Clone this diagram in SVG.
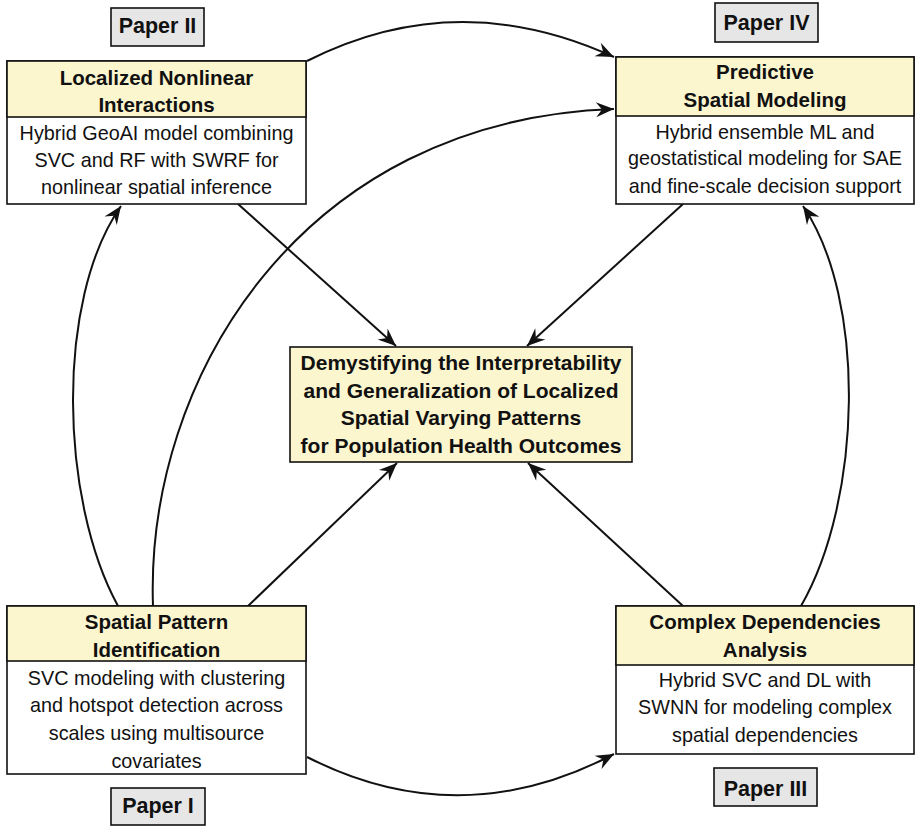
<svg xmlns="http://www.w3.org/2000/svg" width="915" height="827" viewBox="0 0 915 827">
<style>
text{font-family:"Liberation Sans","DejaVu Sans",sans-serif;fill:#111;text-anchor:middle}
.h{font-weight:bold;font-size:20.5px}
.m{font-weight:bold;font-size:21px}
.b{font-size:19.8px}
.p{font-weight:bold;font-size:21.5px}
.box{fill:#fff;stroke:#111;stroke-width:1.6}
.hdr{fill:#fcf6cf;stroke:#111;stroke-width:1.6}
.tag{fill:#e6e6e6;stroke:#111;stroke-width:1.6}
.c{fill:none;stroke:#111;stroke-width:2}
</style>
<defs>
<marker id="ah" markerUnits="userSpaceOnUse" markerWidth="24" markerHeight="20" viewBox="-20 -10 22 20" refX="0" refY="0" orient="auto">
<path d="M0,0 L-18,-7.5 L-12,0 L-18,7.5 Z" fill="#111"/>
</marker>
</defs>
<g id="connectors">
<path class="c" d="M307,61 Q457,-15 614,57" marker-end="url(#ah)"/>
<path class="c" d="M153,606 C145,380 300,120 614,109" marker-end="url(#ah)"/>
<path class="c" d="M118,606 C60,500 55,300 121,206" marker-end="url(#ah)"/>
<path class="c" d="M238,204 L396,346" marker-end="url(#ah)"/>
<path class="c" d="M683,204 L527,346" marker-end="url(#ah)"/>
<path class="c" d="M248,606 L397,463" marker-end="url(#ah)"/>
<path class="c" d="M683,606 L528,463" marker-end="url(#ah)"/>
<path class="c" d="M801,606 C862,500 867,300 803,206" marker-end="url(#ah)"/>
<path class="c" d="M307,757 Q460,835 614,754" marker-end="url(#ah)"/>
</g>
<g id="paper2"><rect class="tag" x="111" y="8" width="93" height="38"/><text class="p" x="157.5" y="33">Paper II</text></g>
<g id="paper4"><rect class="tag" x="715" y="3" width="103" height="39"/><text class="p" x="766.5" y="29.5">Paper IV</text></g>
<g id="paper1"><rect class="tag" x="111" y="788" width="94" height="37"/><text class="p" x="158" y="813">Paper I</text></g>
<g id="paper3"><rect class="tag" x="714" y="768" width="103" height="38"/><text class="p" x="765.5" y="795.5">Paper III</text></g>
<g id="node-localized">
<rect class="box" x="7" y="61" width="299" height="143"/>
<rect class="hdr" x="7" y="61" width="299" height="56"/>
<text class="h" x="156.5" y="84.5">Localized Nonlinear</text>
<text class="h" x="156.5" y="111.5">Interactions</text>
<text class="b" x="156.5" y="139.5">Hybrid GeoAI model combining</text>
<text class="b" x="156.5" y="166.5">SVC and RF with SWRF for</text>
<text class="b" x="156.5" y="193.5">nonlinear spatial inference</text>
</g>
<g id="node-predictive">
<rect class="box" x="616" y="57" width="298" height="147"/>
<rect class="hdr" x="616" y="57" width="298" height="59"/>
<text class="h" x="765" y="79">Predictive</text>
<text class="h" x="765" y="106.5">Spatial Modeling</text>
<text class="b" x="765" y="138.5">Hybrid ensemble ML and</text>
<text class="b" x="765" y="165">geostatistical modeling for SAE</text>
<text class="b" x="765" y="192.5">and fine-scale decision support</text>
</g>
<g id="node-center">
<rect class="hdr" x="290" y="347" width="342" height="115"/>
<text class="m" x="461" y="370">Demystifying the Interpretability</text>
<text class="m" x="461" y="397.5">and Generalization of Localized</text>
<text class="m" x="461" y="425">Spatial Varying Patterns</text>
<text class="m" x="461" y="452.5">for Population Health Outcomes</text>
</g>
<g id="node-spatial">
<rect class="box" x="7" y="606" width="299" height="168"/>
<rect class="hdr" x="7" y="606" width="299" height="55"/>
<text class="h" x="156.5" y="629">Spatial Pattern</text>
<text class="h" x="156.5" y="656.5">Identification</text>
<text class="b" x="156.5" y="685">SVC modeling with clustering</text>
<text class="b" x="156.5" y="712">and hotspot detection across</text>
<text class="b" x="156.5" y="739.5">scales using multisource</text>
<text class="b" x="156.5" y="768">covariates</text>
</g>
<g id="node-complex">
<rect class="box" x="616" y="606" width="298" height="148"/>
<rect class="hdr" x="616" y="606" width="298" height="59"/>
<text class="h" x="765" y="629">Complex Dependencies</text>
<text class="h" x="765" y="656.5">Analysis</text>
<text class="b" x="765" y="687">Hybrid SVC and DL with</text>
<text class="b" x="765" y="714">SWNN for modeling complex</text>
<text class="b" x="765" y="742">spatial dependencies</text>
</g>
</svg>
